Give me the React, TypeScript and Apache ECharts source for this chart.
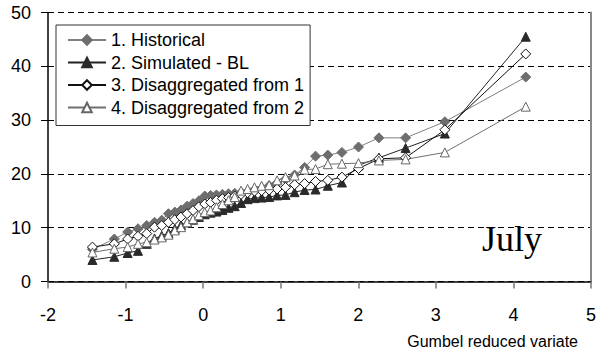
import React, { useEffect, useRef } from "react";
import * as echarts from "echarts";

const xVariate = [-1.427, -1.145, -0.973, -0.84, -0.727, -0.627, -0.534, -0.447, -0.365, -0.285, -0.207, -0.13, -0.055, 0.021, 0.096, 0.172, 0.249, 0.327, 0.407, 0.489, 0.573, 0.662, 0.754, 0.851, 0.953, 1.062, 1.179, 1.308, 1.449, 1.607, 1.789, 2.003, 2.266, 2.61, 3.116, 4.159];
const historical = [6.0, 7.9, 9.2, 9.8, 10.4, 11.0, 11.4, 12.6, 12.9, 13.3, 14.0, 14.5, 15.0, 15.9, 16.0, 16.1, 16.2, 16.3, 16.4, 16.5, 16.7, 17.0, 17.3, 17.8, 18.3, 19.0, 19.8, 21.2, 23.3, 23.5, 24.0, 25.0, 26.7, 26.7, 29.7, 38.0];
const simulatedBL = [4.0, 4.6, 5.3, 5.7, 7.0, 8.0, 8.5, 9.0, 9.8, 10.5, 11.0, 11.5, 12.0, 12.5, 12.8, 13.0, 13.3, 13.7, 14.0, 14.6, 15.3, 15.5, 15.6, 15.7, 16.0, 16.1, 16.6, 17.0, 17.1, 17.8, 18.4, 21.6, 23.0, 24.8, 27.5, 45.5];
const disagg1 = [6.4, 7.0, 7.9, 8.4, 8.9, 10.1, 10.4, 11.0, 11.5, 12.0, 12.6, 13.2, 13.9, 14.4, 14.7, 15.1, 15.4, 15.6, 15.9, 16.2, 16.5, 16.8, 16.9, 17.0, 17.2, 17.5, 18.0, 18.2, 18.6, 18.8, 19.4, 21.0, 22.8, 23.0, 28.2, 42.3];
const disagg2 = [5.4, 6.1, 6.4, 7.0, 7.3, 7.8, 8.2, 8.7, 9.5, 10.1, 11.0, 11.6, 12.3, 12.9, 13.2, 13.8, 14.4, 15.1, 15.7, 16.9, 17.2, 17.5, 17.8, 17.9, 18.8, 19.4, 19.7, 20.8, 20.9, 21.8, 21.9, 22.0, 22.5, 22.7, 24.0, 32.5];
const seriesNames = ["1. Historical", "2. Simulated - BL", "3. Disaggregated from 1", "4. Disaggregated from 2"];
const xTitle = "Gumbel reduced variate";
const panelLabel = "July";

const pair = (ys: number[]) => xVariate.map((x, i) => [x, ys[i]]);

export default function App() {
  const ref = useRef<HTMLDivElement>(null);
  useEffect(() => {
    if (!ref.current) return;
    const chart = echarts.init(ref.current, undefined, { renderer: "svg" });
    const font = "'Liberation Sans', Arial, sans-serif";
    const mk = (name: string, ys: number[], symbol: string, lineColor: string, fill: string, border: string, size: number) => ({
      name,
      type: "line",
      data: pair(ys),
      symbol,
      symbolSize: size,
      showAllSymbol: true,
      lineStyle: { color: lineColor, width: 1 },
      itemStyle: { color: fill, borderColor: border, borderWidth: 1 },
      emphasis: { disabled: true },
    });
    chart.setOption({
      animation: false,
      backgroundColor: "#fff",
      grid: { left: 48, right: 16, top: 12.5, bottom: 80.5 },
      legend: {
        orient: "vertical",
        left: 56,
        top: 25,
        padding: [6, 6, 9, 11],
        itemWidth: 38,
        itemHeight: 12,
        itemGap: 4.5,
        backgroundColor: "#fff",
        borderColor: "#333",
        borderWidth: 1,
        borderRadius: 0,
        textStyle: { fontFamily: font, fontSize: 18, color: "#000", lineHeight: 18 },
        data: seriesNames,
      },
      xAxis: {
        type: "value",
        min: -2,
        max: 5,
        interval: 1,
        axisLine: { onZero: false, lineStyle: { color: "#000", width: 1.5 } },
        axisTick: { show: true, length: 7, inside: false, lineStyle: { color: "#777", width: 1.5 } },
        axisLabel: { fontFamily: font, fontSize: 18, color: "#000", margin: 24 },
        splitLine: { show: false },
      },
      yAxis: [
        {
          type: "value",
          min: 0,
          max: 50,
          interval: 10,
          axisLine: { show: true, onZero: false, lineStyle: { color: "#000", width: 1.5 } },
          axisTick: { show: true, length: 7, lineStyle: { color: "#000", width: 1 } },
          axisLabel: { fontFamily: font, fontSize: 18, color: "#000", margin: 17 },
          splitLine: { show: true, lineStyle: { color: "#000", type: [6, 4], width: 1 } },
        },
        {
          type: "value",
          min: 0,
          max: 50,
          interval: 10,
          position: "right",
          axisLine: { show: true, onZero: false, lineStyle: { color: "#888", width: 2 } },
          axisTick: { show: false },
          axisLabel: { show: false },
          splitLine: { show: false },
        },
      ],
      series: [
        mk(seriesNames[0], historical, "diamond", "#808080", "#6e6e6e", "#6e6e6e", 10),
        mk(seriesNames[1], simulatedBL, "triangle", "#222", "#2a2a2a", "#2a2a2a", 9),
        mk(seriesNames[2], disagg1, "diamond", "#111", "#fff", "#111", 10),
        mk(seriesNames[3], disagg2, "triangle", "#707070", "#fff", "#666", 9),
      ],
      graphic: [
        {
          type: "text",
          right: 29,
          top: 333,
          style: { text: xTitle, font: `16px ${font}`, fill: "#000" },
        },
        {
          type: "text",
          left: 482,
          top: 221,
          style: { text: panelLabel, font: "36px 'Liberation Serif', 'Times New Roman', serif", fill: "#000" },
        },
      ],
    });
    return () => chart.dispose();
  }, []);
  return <div ref={ref} style={{ width: 607, height: 362, position: "absolute", left: 0, top: 0 }} />;
}
